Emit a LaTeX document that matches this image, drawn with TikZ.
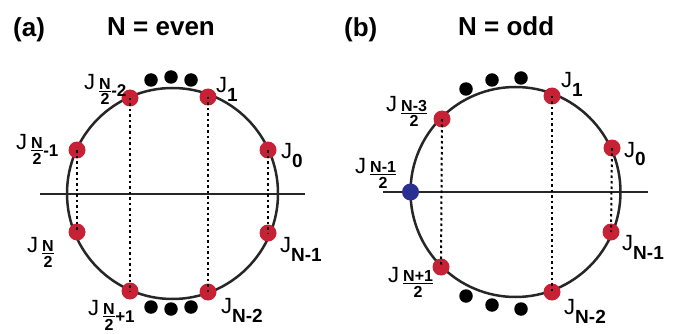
\documentclass[tikz,border=0pt]{standalone}
\usepackage{fontspec}
\setmainfont{Liberation Sans}
\definecolor{dotred}{RGB}{198,33,52}
\definecolor{dotblue}{RGB}{42,48,145}
\newcommand{\Js}[1]{{\fontsize{22}{22}\selectfont J}\raisebox{-9pt}{\fontsize{19}{19}\selectfont\bfseries #1}}
\newcommand{\fracstack}[2]{\vbox{\offinterlineskip\halign{\hfil##\hfil\cr #1\cr\noalign{\kern1.6pt}\leaders\hrule height 1.3pt\hfill\cr\noalign{\kern1.6pt}#2\cr}}}
\newcommand{\Jf}[3]{{\fontsize{22}{22}\selectfont J}\kern4pt\raisebox{-15pt}{\fontsize{16}{16}\selectfont\bfseries\fracstack{#1}{#2}}\kern0.5pt\raisebox{-7pt}{\fontsize{17}{17}\selectfont\bfseries #3}}
\tikzset{
  reddot/.style={circle,fill=dotred,inner sep=0,minimum size=17pt},
  bluedot/.style={circle,fill=dotblue,inner sep=0,minimum size=17pt},
  blackdot/.style={circle,fill=black,inner sep=0,minimum size=13.5pt},
  ring/.style={circle,draw=black!85,line width=2.5pt,inner sep=0,minimum size=#1},
  axisline/.style={line width=2pt,black!85},
  link/.style={line width=2pt,dash pattern=on 2.5pt off 3pt},
  lab/.style={anchor=base west,inner sep=0},
  title/.style={anchor=base west,inner sep=0,font=\fontsize{26}{26}\selectfont\bfseries}
}
\begin{document}
\begin{tikzpicture}[x=1pt,y=-1pt]
\useasboundingbox (0,0) rectangle (690,334);
% titles
\node[title] (ta) at (13,37) {(a)};
\node[title] (tna) at (107,36) {N = even};
\node[title] (tb) at (344,37) {(b)};
\node[title] (tnb) at (458,36) {N = odd};

% ---------- panel (a)
\node[ring=211pt] (circa) at (172.5,193.5) {};
\coordinate (hla) at (40,194);
\coordinate (hra) at (305,194);
\draw[axisline] (hla) -- (hra);
\node[reddot] (a1) at (208,97) {};
\node[reddot] (a2) at (130,98) {};
\node[reddot] (a3) at (77,150) {};
\node[reddot] (a0) at (268,150) {};
\node[reddot] (a4) at (77,232) {};
\node[reddot] (a9) at (268,233) {};
\node[reddot] (a5) at (130,291) {};
\node[reddot] (a8) at (208,292) {};
\draw[link] (a1.center) -- (a8.center);
\draw[link] (a2.center) -- (a5.center);
\draw[link] (a3.center) -- (a4.center);
\draw[link] (a0.center) -- (a9.center);
\node[blackdot] (at1) at (151,80) {};
\node[blackdot] (at2) at (171,77) {};
\node[blackdot] (at3) at (191,80) {};
\node[blackdot] (ab1) at (151,307) {};
\node[blackdot] (ab2) at (171,309) {};
\node[blackdot] (ab3) at (191,307) {};
\node[lab] (la2) at (84,90) {\Jf{N}{2}{-2}};
\node[lab] (la1) at (216,93) {\Js{1}};
\node[lab] (la3) at (16,149) {\Jf{N}{2}{-1}};
\node[lab] (la0) at (281,158) {\Js{0}};
\node[lab] (la4) at (27,252) {\Jf{N}{2}{}};
\node[lab] (la9) at (280,252) {\Js{N-1}};
\node[lab] (la5) at (88,315) {\Jf{N}{2}{+1}};
\node[lab] (la8) at (221,313) {\Js{N-2}};

% ---------- panel (b)
\node[ring=210pt] (circb) at (515.5,192) {};
\coordinate (hlb) at (383,192);
\coordinate (hrb) at (648,192);
\draw[axisline] (hlb) -- (hrb);
\node[reddot] (b1) at (552,96) {};
\node[reddot] (b2) at (442,119) {};
\node[reddot] (b0) at (612,148) {};
\node[bluedot] (bm) at (410.5,192) {};
\node[reddot] (b9) at (611,232) {};
\node[reddot] (b3) at (441,267) {};
\node[reddot] (b8) at (552,292) {};
\draw[link] (b1.center) -- (b8.center);
\draw[link] (b2.center) -- (b3.center);
\draw[link] (b0.center) -- (b9.center);
\node[blackdot] (bt1) at (466,89) {};
\node[blackdot] (bt2) at (492,80) {};
\node[blackdot] (bt3) at (521,78) {};
\node[blackdot] (bb1) at (466,296) {};
\node[blackdot] (bb2) at (492,305) {};
\node[blackdot] (bb3) at (521,309) {};
\node[lab] (lb2) at (386,112) {\Jf{N-3}{2}{}};
\node[lab] (lb1) at (561,88) {\Js{1}};
\node[lab] (lb0) at (624,157) {\Js{0}};
\node[lab] (lbm) at (355,173) {\Jf{N-1}{2}{}};
\node[lab] (lb9) at (622,250) {\Js{N-1}};
\node[lab] (lb3) at (388,282) {\Jf{N+1}{2}{}};
\node[lab] (lb8) at (564,314) {\Js{N-2}};
\end{tikzpicture}
\end{document}
